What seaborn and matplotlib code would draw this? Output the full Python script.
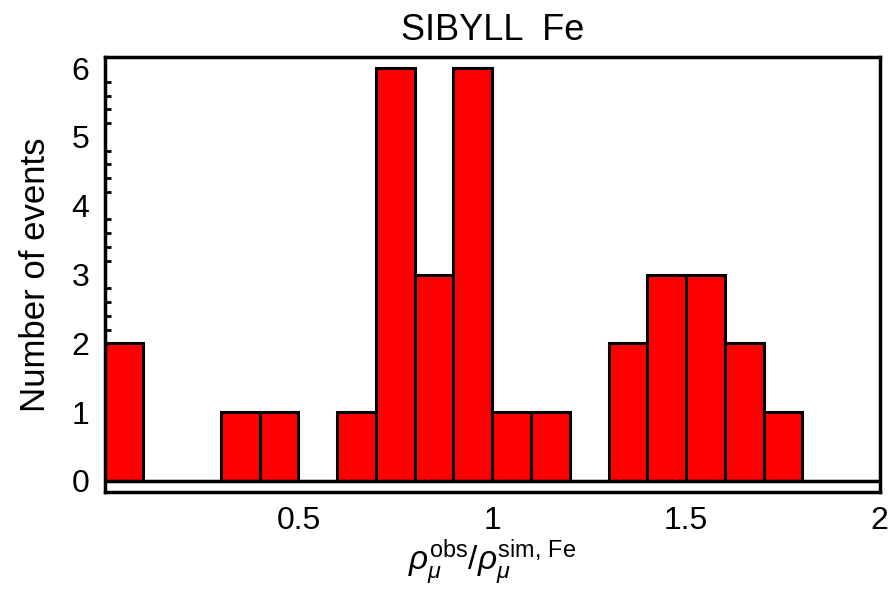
import numpy as np
import matplotlib
matplotlib.use('Agg')
import matplotlib.pyplot as plt
import seaborn as sns
from matplotlib.ticker import MultipleLocator

# --- donnees ---
bin_edges = [0.0, 0.1, 0.2, 0.3, 0.4, 0.5, 0.6, 0.7, 0.8, 0.9, 1.0,
             1.1, 1.2, 1.3, 1.4, 1.5, 1.6, 1.7, 1.8, 1.9, 2.0]
bin_centers = [0.05, 0.15, 0.25, 0.35, 0.45, 0.55, 0.65, 0.75, 0.85, 0.95,
               1.05, 1.15, 1.25, 1.35, 1.45, 1.55, 1.65, 1.75, 1.85, 1.95]
counts = [2, 0, 0, 1, 1, 0, 1, 6, 3, 6,
          1, 1, 0, 2, 3, 3, 2, 1, 0, 0]
x_ticks = [0.5, 1, 1.5, 2]
x_tick_labels = ['0.5', '1', '1.5', '2']
y_ticks = [0, 1, 2, 3, 4, 5, 6]

sns.set_style('white')
plt.rcParams['font.family'] = ['Liberation Sans', 'DejaVu Sans']
plt.rcParams['mathtext.fontset'] = 'custom'
plt.rcParams['mathtext.rm'] = 'Liberation Sans'
plt.rcParams['mathtext.it'] = 'Liberation Sans:italic'
for k in ['text.color', 'axes.labelcolor', 'xtick.color', 'ytick.color']:
    plt.rcParams[k] = 'black'

fig = plt.figure(figsize=(8.95, 5.91), dpi=100)
ax = fig.add_axes([0.117, 0.1675, 0.866, 0.736])

sns.histplot(x=bin_centers, weights=counts, bins=bin_edges, ax=ax,
             color='#ff0000', alpha=1, edgecolor='black', linewidth=2.2)

ax.set_xlim(0, 2)
ax.set_ylim(-0.16, 6.16)
ax.axhline(0, color='black', linewidth=2.5, zorder=3)

ax.set_xticks(x_ticks)
ax.set_xticklabels(x_tick_labels)
ax.set_yticks(y_ticks)
ax.yaxis.set_minor_locator(MultipleLocator(0.2))
ax.tick_params(axis='both', which='major', direction='in', labelsize=23,
               width=2, color='black')
ax.tick_params(axis='y', which='major', length=7, pad=11)
ax.tick_params(axis='x', which='major', length=4, pad=10)
ax.tick_params(axis='y', which='minor', direction='in', length=4, width=2,
               left=True)

for s in ax.spines.values():
    s.set_linewidth(2.5)
    s.set_color('black')

ax.set_title('SIBYLL  Fe', fontsize=26, pad=12)
ax.set_ylabel('Number of events', fontsize=25, labelpad=14)
ax.set_xlabel(r'$\rho_\mu^{\mathrm{obs}}/\rho_\mu^{\mathrm{sim,\,Fe}}$',
              fontsize=24, labelpad=1)

fig.savefig('out.png', dpi=100)
